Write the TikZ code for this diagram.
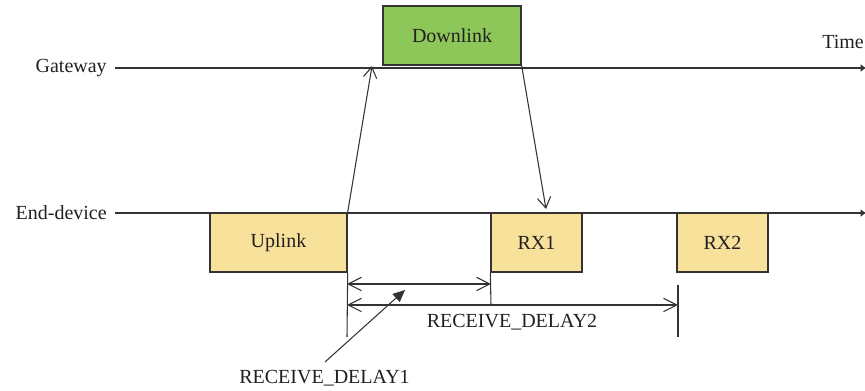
\documentclass[tikz,border=0pt]{standalone}
\usepackage{fontspec}
\setmainfont{Liberation Serif}
\usetikzlibrary{arrows.meta}
\definecolor{ylw}{HTML}{F8E19A}
\definecolor{grn}{HTML}{8DC75A}
\definecolor{ln}{HTML}{333333}
\definecolor{txt}{HTML}{231F20}
\begin{document}
\begin{tikzpicture}[x=0.75pt,y=-0.75pt,
  lbl/.style={font=\fontsize{15}{18}\selectfont, text=txt, inner sep=0pt},
  box/.style={draw=ln, line width=1pt, inner sep=0pt, minimum height=44.25pt,
    font=\fontsize{15}{18}\selectfont, text=txt},
  axis/.style={draw=ln, line width=0.9pt, -{Latex[length=4pt,width=6pt]}},
  thin/.style={draw=ln, line width=0.8pt},
  open/.style={thin, -{Straight Barb[length=8pt,width=10pt]}},
  dbl/.style={thin, {Straight Barb[length=10pt,width=10pt]}-{Straight Barb[length=10pt,width=10pt]}}]
\useasboundingbox (0,0) rectangle (865,391);
% axes
\node[lbl, anchor=east] (gwl) at (107,68) {Gateway};
\node[lbl, anchor=east] (edl) at (107,213) {End-device};
\coordinate (gws) at (115,68);
\coordinate (gwe) at (866,68);
\coordinate (eds) at (115,213);
\coordinate (ede) at (866,213);
\draw[axis] (gws) -- (gwe);
\draw[axis] (eds) -- (ede);
\node[lbl, anchor=west] (time) at (822,42) {Time};
% boxes
\node[box, fill=grn, minimum width=103.5pt] (dl) at (452,35.5) {Downlink};
\node[box, fill=ylw, minimum width=102.75pt] (ul) at (278.5,242.5) {Uplink};
\node[box, fill=ylw, minimum width=68.25pt] (rx1) at (536.5,242.5) {RX1};
\node[box, fill=ylw, minimum width=68.25pt] (rx2) at (722.5,242.5) {RX2};
% transmission arrows
\coordinate (upt) at (372,66);
\coordinate (dnt) at (546,209);
\draw[open] (ul.north east) -- (upt);
\draw[open] (dl.south east) -- (dnt);
% ticks
\coordinate (t1) at (347,337);
\coordinate (t2) at (491,305);
\coordinate (t3a) at (678,285);
\coordinate (t3b) at (678,337);
\draw[thin] (ul.south east) -- (t1);
\draw[thin] (rx1.south west) -- (t2);
\draw[thin] (t3a) -- (t3b);
% delay arrows
\coordinate (d1a) at (347,284);
\coordinate (d1b) at (491,284);
\coordinate (d2a) at (347,305);
\coordinate (d2b) at (678,305);
\draw[dbl] (d1a) -- (d1b);
\draw[dbl] (d2a) -- (d2b);
\node[lbl] (rd2) at (512,322) {RECEIVE\_DELAY2};
\node[lbl] (rd1) at (324.5,378) {RECEIVE\_DELAY1};
\coordinate (rd1s) at (325,362);
\coordinate (rd1t) at (405,290);
\draw[thin, -{Triangle[length=9pt,width=8pt]}] (rd1s) -- (rd1t);
\end{tikzpicture}
\end{document}
